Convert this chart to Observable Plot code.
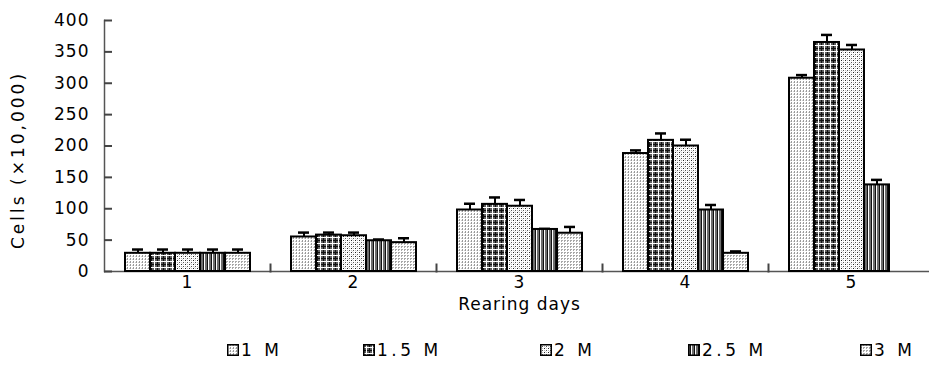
<!DOCTYPE html>
<html><head><meta charset="utf-8">
<script src="https://cdn.jsdelivr.net/npm/d3@7"></script>
<script src="https://cdn.jsdelivr.net/npm/@observablehq/plot@0.6"></script>
<style>
body{margin:0;background:#fff;}
#chart{position:relative;width:929px;height:381px;font-family:"DejaVu Sans",sans-serif;overflow:hidden;}
#legend{position:absolute;left:0;top:338px;width:929px;height:24px;font-size:17px;letter-spacing:3.5px;color:#000;}
#legend .item{position:absolute;top:0;display:flex;align-items:center;height:24px;white-space:nowrap;}
#legend svg{margin-right:2px;}
#ylabel{position:absolute;left:18px;top:160px;transform:translate(-50%,-50%) rotate(-90deg);font-size:17px;letter-spacing:3px;white-space:nowrap;color:#000;}
.xlab text{letter-spacing:1.5px;}
</style></head><body>
<div id="chart"></div>
<script>
// ---- data ----
const days = [1, 2, 3, 4, 5];
const concs = ["1 M", "1.5 M", "2 M", "2.5 M", "3 M"];
const v1M  = [29, 55, 98, 188, 308];
const v15M = [29, 58, 107, 209, 365];
const v2M  = [29, 57, 104, 200, 353];
const v25M = [29, 49, 67, 98, 138];
const v3M  = [29, 46, 61, 29, null];
const e1M  = [6, 7, 10, 5, 5];
const e15M = [6, 4, 11, 11, 12];
const e2M  = [6, 5, 10, 10, 8];
const e25M = [6, 2, 1, 8, 8];
const e3M  = [6, 7, 10, 3, null];
const yTicks = [0, 50, 100, 150, 200, 250, 300, 350, 400];
const yLabel = "Cells (×10,000)";
const xLabel = "Rearing days";

const seriesV = [v1M, v15M, v2M, v25M, v3M];
const seriesE = [e1M, e15M, e2M, e25M, e3M];
const rows = [];
concs.forEach((c, i) => days.forEach((d, j) => {
  if (seriesV[i][j] != null) rows.push({day: d, conc: c, v: seriesV[i][j], e: seriesE[i][j]});
}));

const patterns = `
<defs>
 <pattern id="pat0" width="3" height="3" patternUnits="userSpaceOnUse">
  <rect width="3" height="3" fill="#fff"/><rect x="0" y="0" width="1" height="2" fill="#9a9a9a"/><rect x="2" y="1" width="1" height="1" fill="#cfcfcf"/>
 </pattern>
 <pattern id="pat1" width="6" height="6" patternUnits="userSpaceOnUse">
  <rect width="6" height="6" fill="#5e5e5e"/><rect x="0" y="0" width="1" height="6" fill="#111"/><rect x="0" y="0" width="6" height="1" fill="#111"/>
  <rect x="3" y="0" width="1" height="6" fill="#fff"/><rect x="0" y="3" width="6" height="1" fill="#fff"/>
 </pattern>
 <pattern id="pat2" width="4" height="4" patternUnits="userSpaceOnUse">
  <rect width="4" height="4" fill="#fff"/><rect x="0" y="0" width="1" height="1" fill="#222"/><rect x="2" y="2" width="1" height="1" fill="#555"/>
  <rect x="2" y="0" width="1" height="1" fill="#bbb"/><rect x="0" y="2" width="1" height="1" fill="#bbb"/><rect x="1" y="3" width="1" height="1" fill="#ddd"/>
 </pattern>
 <pattern id="pat3" width="4" height="4" patternUnits="userSpaceOnUse">
  <rect width="4" height="4" fill="#6e6e6e"/><rect x="2" y="0" width="1" height="4" fill="#111"/><rect x="3" y="0" width="1" height="4" fill="#fff"/>
 </pattern>
 <pattern id="pat4" width="3" height="3" patternUnits="userSpaceOnUse">
  <rect width="3" height="3" fill="#fff"/><rect x="0" y="0" width="2" height="1" fill="#a8a8a8"/><rect x="0" y="1" width="1" height="1" fill="#a8a8a8"/>
 </pattern>
</defs>`;

const barMarks = concs.map((c, i) => Plot.barY(rows.filter(d => d.conc === c), {
  fx: "day", x: "conc", y: "v", fill: `url(#pat${i})`, stroke: "#000", strokeWidth: 2
}));

const plot = Plot.plot({
  width: 929, height: 322,
  marginLeft: 103, marginRight: -5, marginTop: 20, marginBottom: 51,
  style: {fontFamily: '"DejaVu Sans", sans-serif', fontSize: "17px", letterSpacing: "1px", background: "#fff", color: "#000"},
  fx: {domain: days, padding: 0, label: null},
  x: {domain: concs, paddingInner: 0, paddingOuter: 0.7, axis: null},
  y: {domain: [0, 400], label: null},
  marks: [
    Plot.ruleY([0], {stroke: "#555", strokeWidth: 1.5}),
    Plot.frame({anchor: "left", facet: "super", stroke: "#555", strokeWidth: 1.5}),
    // short inward ticks at the boundaries between day groups
    Plot.frame({anchor: "right", insetTop: 244, stroke: "#444", strokeWidth: 2}),
    Plot.axisY(yTicks, {tickSize: 8, dx: 8, tickPadding: 15, label: null, stroke: "#444", strokeWidth: 2}),
    Plot.axisFx({anchor: "bottom", tickSize: 0, tickPadding: 4, label: null}),
    Plot.axisFx({anchor: "bottom", ticks: [], label: xLabel, labelAnchor: "center", labelOffset: 38, labelArrow: "none", className: "xlab"}),
    Plot.ruleX(rows, {fx: "day", x: "conc", y1: "v", y2: d => d.v + d.e, stroke: "#000", strokeWidth: 2}),
    Plot.tickY(rows, {fx: "day", x: "conc", y: d => d.v + d.e, stroke: "#000", strokeWidth: 2.5, insetLeft: 7, insetRight: 7}),
    ...barMarks
  ]
});
plot.insertAdjacentHTML("afterbegin", patterns);
const chart = document.getElementById("chart");
chart.appendChild(plot);

const yl = document.createElement("div");
yl.id = "ylabel";
yl.textContent = yLabel;
chart.appendChild(yl);

const legendLeft = [227, 363, 540, 688, 860];
const legend = document.createElement("div");
legend.id = "legend";
concs.forEach((c, i) => {
  const it = document.createElement("div");
  it.className = "item";
  it.style.left = legendLeft[i] + "px";
  it.innerHTML = `<svg width="12" height="12"><rect x="0.75" y="0.75" width="10.5" height="10.5" fill="url(#pat${i})" stroke="#000" stroke-width="1.5"/></svg><span>${c}</span>`;
  legend.appendChild(it);
});
chart.appendChild(legend);
</script>
</body></html>
